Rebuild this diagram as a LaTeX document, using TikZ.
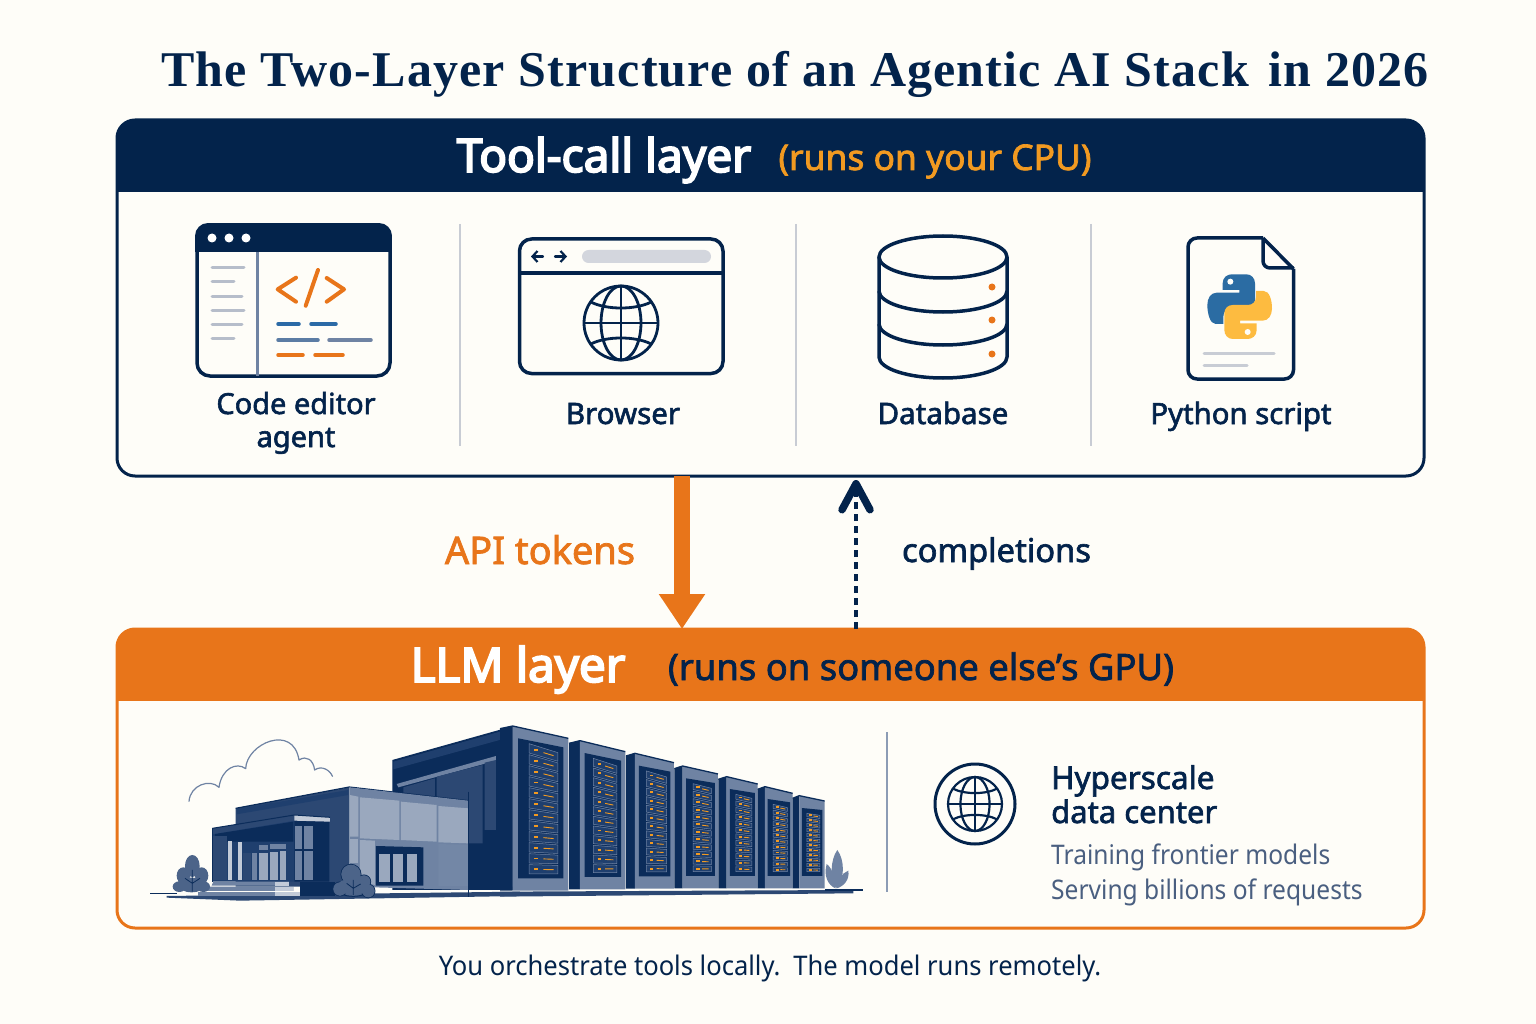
\documentclass[tikz,border=0pt]{standalone}
\usepackage{fontspec}
\usetikzlibrary{arrows.meta,calc}
\setmainfont{Noto Sans}
\newfontfamily\sansm[FakeBold=2.0]{Noto Sans}
\newfontfamily\sansb[FakeBold=4.0]{Noto Sans}
\newfontfamily\sansn[FakeStretch=.91]{Noto Sans}
\newfontfamily\sansf[FakeStretch=.947]{Noto Sans}
\newfontfamily\titlefam[LetterSpace=2.3]{Liberation Serif}
\newcommand{\titlef}{\titlefam\bfseries}
\newcommand{\fs}[1]{\fontsize{#1}{#1}\selectfont}
\definecolor{navy}{HTML}{03234B}
\definecolor{orangeM}{HTML}{E8751A}
\definecolor{orangeL}{HTML}{F29A21}
\definecolor{bgc}{HTML}{FEFDF8}
\definecolor{divc}{HTML}{C8CCD4}
\definecolor{slate}{HTML}{4A5F80}
\definecolor{bD}{HTML}{0B2C5A}
\definecolor{bM}{HTML}{1F3F6E}
\definecolor{bN}{HTML}{2C4873}
\definecolor{bG}{HTML}{6F83A3}
\definecolor{bL}{HTML}{9AA8BE}
\definecolor{bX}{HTML}{C3CBD8}
\definecolor{blueC}{HTML}{2B6AA6}
\definecolor{pyB}{HTML}{2B6CA3}
\definecolor{pyY}{HTML}{FDBB40}
\tikzset{
  panel/.style={draw=#1,line width=3pt,rounded corners=18pt,minimum width=1307pt,inner sep=0pt,outer sep=0pt},
  lbl/.style={anchor=base,inner sep=0pt,text=navy},
  divl/.style={draw=divc,line width=2pt},
  icon/.style={draw=navy,line width=3.5pt,line join=round},
  bar/.style={line width=3.5pt,line cap=round},
  zoomA/.style={x=.3333pt,y=-.3333pt}
}
\newcommand{\myglobe}[4]{%
  \begin{scope}[shift={(#1,#2)},x=#3pt,y=#3pt]
  \draw[navy,line width=#4pt] (0,0) circle[radius=1];
  \draw[navy,line width=#4pt] (0,0) ellipse[x radius=.54,y radius=1];
  \draw[navy,line width=#4pt] (0,-1) -- (0,1) (-1,0) -- (1,0);
  \draw[navy,line width=#4pt] (-.82,-.57) .. controls (-.4,-.35) and (.4,-.35) .. (.82,-.57);
  \draw[navy,line width=#4pt] (-.82,.57) .. controls (-.4,.35) and (.4,.35) .. (.82,.57);
  \end{scope}}
\newcommand{\rack}[6]{% side, xl, xr, yl, yr, yb
  \fill[bD] (#1,#4+8) -- (#2,#4) -- (#2,#6) -- (#1,#6) -- cycle;
  \fill[bG] (#2,#4) -- (#3,#5) -- (#3,#6) -- (#2,#6) -- cycle;
  \draw[bD,line width=1.3pt] (#1,#4+8) -- (#2,#4) -- (#3,#5);
  \pgfmathsetmacro{\iwv}{#3-#2}
  \pgfmathsetmacro{\ixa}{#2+0.1*\iwv}
  \pgfmathsetmacro{\ixb}{#3-0.09*\iwv}
  \pgfmathsetmacro{\iya}{#4+37}
  \pgfmathsetmacro{\iyb}{#5+27}
  \pgfmathsetmacro{\iyc}{#6-37}
  \fill[bD] (\ixa,\iya) -- (\ixb,\iyb) -- (\ixb,\iyc) -- (\ixa,\iyc) -- cycle;
  \pgfmathsetmacro{\uxa}{\ixa+0.24*(\ixb-\ixa)}
  \pgfmathsetmacro{\uxb}{\ixb-0.12*(\ixb-\ixa)}
  \pgfmathsetmacro{\hl}{(\iyc-8-\iya-16)/12}
  \pgfmathsetmacro{\hr}{(\iyc-8-\iyb-16)/12}
  \foreach \i in {0,...,11}{
    \pgfmathsetmacro{\ala}{\iya+16+\i*\hl}
    \pgfmathsetmacro{\alb}{\ala+\hl-5}
    \pgfmathsetmacro{\ara}{\iyb+16+\i*\hr}
    \pgfmathsetmacro{\arb}{\ara+\hr-5}
    \filldraw[fill=bM,draw=bG,line width=.5pt] (\uxa,\ala) -- (\uxb,\ara) -- (\uxb,\arb) -- (\uxa,\alb) -- cycle;
    \pgfmathsetmacro{\dx}{\uxa+0.18*(\uxb-\uxa)}
    \pgfmathsetmacro{\ex}{\uxa+0.5*(\uxb-\uxa)}
    \pgfmathsetmacro{\fx}{\uxa+0.85*(\uxb-\uxa)}
    \pgfmathsetmacro{\my}{(\ala+\alb)/2}
    \pgfmathsetmacro{\mz}{(\ara+\arb)/2}
    \pgfmathsetmacro{\pa}{\my+.18*(\mz-\my)}
    \pgfmathsetmacro{\pb}{\my+.5*(\mz-\my)}
    \pgfmathsetmacro{\pc}{\my+.85*(\mz-\my)}
    \draw[orangeL,line width=1.9pt] (\dx,\pa) -- ++(10,0);
    \draw[orangeL,line width=.9pt] (\ex,\pb) -- (\fx,\pc);
  }
}
\begin{document}
\begin{tikzpicture}[x=1pt,y=-1pt]
\useasboundingbox (0,0) rectangle (1536,1024);
\fill[bgc] (0,0) rectangle (1536,1024);

% title
\node[lbl] (title) at (795,87) {\titlef\fs{50}The Two-Layer Structure of an Agentic AI Stack\hspace{6pt} in 2026};

% ---- top panel
\begin{scope}
\clip[rounded corners=18pt] (117,120) rectangle (1424,476);
\fill[navy] (117,120) rectangle (1424,192);
\end{scope}
\node[panel=navy,minimum height=356pt] (toolpanel) at (770.5,298) {};
\node[lbl,text=white] (toolhead) at (604,172) {\sansb\fs{46}Tool-call layer};
\node[lbl,text=orangeL] (toolsub) at (935,170) {\sansm\fs{35.4}(runs on your CPU)};

\draw[divl] (460,224) -- (460,446);
\draw[divl] (796,224) -- (796,446);
\draw[divl] (1091,224) -- (1091,446);

% editor icon
\begin{scope}
\clip[rounded corners=13pt] (195,223) rectangle (392,378);
\fill[navy] (195,223) rectangle (392,252);
\end{scope}
\draw[icon,rounded corners=13pt] (197,225) rectangle (390,376);
\foreach \cx in {212,229,246} \fill[white] (\cx,238) circle[radius=4.5];
\draw[bG,line width=2.5pt] (257.5,252) -- (257.5,376);
\foreach \ya/\xb in {268/244,282/234,296/242,310/244,324/242,338/234}
  \draw[divc!80!bG,bar,line width=3pt] (212,\ya) -- (\xb,\ya);
\draw[orangeM,line width=4pt,line cap=round,line join=round] (296,277.7) -- (277.7,289.3) -- (296,301.7);
\draw[orangeM,line width=4pt,line cap=round] (318,270) -- (305.7,305.7);
\draw[orangeM,line width=4pt,line cap=round,line join=round] (326.7,278) -- (344,289.3) -- (326.7,301.7);
\draw[blueC,bar] (278,324) -- (299,324);
\draw[blueC,bar] (311,324) -- (336,324);
\draw[bN,bar,draw=bG!70!blueC] (278,340) -- (318,340);
\draw[bG,bar] (329,340) -- (371,340);
\draw[orangeM,bar] (278,355) -- (303,355);
\draw[orangeM,bar] (315,355) -- (343,355);
\node[lbl] (lblcode1) at (296,414) {\sansm\fs{29}Code editor};
\node[lbl] (lblcode2) at (296,447) {\sansm\fs{29}agent};

% browser icon
\draw[icon,rounded corners=12pt] (519.5,239) rectangle (723,373.5);
\draw[navy,line width=3.5pt] (519.5,273) -- (723,273);
\draw[navy,line width=2.2pt,line cap=round,line join=round,-{Straight Barb[length=5pt,width=11pt]}] (543,256.5) -- (531,256.5);
\draw[navy,line width=2.2pt,line cap=round,line join=round,-{Straight Barb[length=5pt,width=11pt]}] (555,256.5) -- (567,256.5);
\fill[divc!80!white,rounded corners=6.5pt] (582,250) rectangle (711,263);
\myglobe{621}{323}{37}{2.8}
\node[lbl] (lblbrowser) at (623,424) {\sansm\fs{29.5}Browser};

% database icon
\draw[icon] (879,257) -- (879,357) arc[start angle=180,end angle=0,x radius=64,y radius=21] -- (1007,257);
\draw[icon] (943,257) ellipse[x radius=64,y radius=21];
\draw[icon] (879,291) arc[start angle=180,end angle=0,x radius=64,y radius=21];
\draw[icon] (879,324) arc[start angle=180,end angle=0,x radius=64,y radius=21];
\foreach \ya in {287,320,354} \fill[orangeM] (992,\ya) circle[radius=3.5];
\node[lbl] (lbldb) at (943,424) {\sansm\fs{29.5}Database};

% python icon
\draw[icon,rounded corners=9pt] (1263,238) -- (1188,238) -- (1188,379) -- (1293.5,379) -- (1293.5,269);
\draw[icon,line join=round] (1263,238) -- (1293.5,269);
\draw[icon,rounded corners=7pt] (1263,238) -- (1263,268) -- (1293.5,268);
\begin{scope}[shift={(1150,220)},zoomA]
\fill[pyB] (218,210) -- (218,190) .. controls (218,172) and (232,163) .. (245,163) -- (290,163) .. controls (304,163) and (315,175) .. (315,190) -- (315,240) .. controls (315,255) and (304,265) .. (290,265) -- (245,265) .. controls (230,265) and (220,275) .. (220,290) -- (220,312) -- (197,312) .. controls (180,312) and (172,280) .. (172,255) .. controls (172,235) and (182,218) .. (200,218) -- (268,218) -- (268,210) -- cycle;
\fill[pyY] (320,310) -- (320,330) .. controls (320,348) and (306,357) .. (293,357) -- (248,357) .. controls (234,357) and (223,345) .. (223,330) -- (223,280) .. controls (223,265) and (234,255) .. (248,255) -- (293,255) .. controls (308,255) and (318,245) .. (318,230) -- (318,213) -- (341,213) .. controls (358,213) and (366,240) .. (366,265) .. controls (366,285) and (356,302) .. (338,302) -- (270,302) -- (270,310) -- cycle;
\fill[bgc] (241,185) circle[radius=9];
\fill[bgc] (293,336) circle[radius=9];
\end{scope}
\draw[divc,bar,line width=3pt] (1204,353) -- (1274,353);
\draw[divc,bar,line width=3pt] (1204,365.5) -- (1247,365.5);
\node[lbl] (lblpy) at (1241,424) {\sansm\fs{29.3}Python script};

% ---- bottom panel
\begin{scope}
\clip[rounded corners=18pt] (117,629) rectangle (1424,928);
\fill[orangeM] (117,629) rectangle (1424,701);
\end{scope}
\node[panel=orangeM,minimum height=299pt] (llmpanel) at (770.5,778.5) {};
\node[lbl,text=white] (llmhead) at (518,682) {\sansb\fs{47.5}LLM layer};
\node[lbl] (llmsub) at (921,680) {\sansm\fs{36.4}(runs on someone else’s GPU)};

% connectors
\coordinate (apix) at (682,552);
\coordinate (compend) at (856,480);
\draw[orangeM,line width=16.7pt,-{Triangle[width=44pt,length=35pt]}] (toolpanel.south -| apix) -- (llmpanel.north -| apix);
\draw[navy,line width=3.2pt,dash pattern=on 7pt off 5pt,-{Straight Barb[round,length=26pt,width=28pt,line width=7.5pt]}] (llmpanel.north -| compend) -- (compend);
\node[lbl,text=orangeM] (apilbl) at (540,564) {\sansm\fs{38}API tokens};
\node[lbl] (complbl) at (996.5,562) {\sansm\fs{32.7}completions};

% ---- building, left part
\begin{scope}[shift={(140,710)},zoomA]
% cloud
\draw[bG,line width=1.2pt,line join=round] (147,275) .. controls (150,225) and (210,205) .. (237,232) .. controls (245,175) and (290,155) .. (317,176) .. controls (320,100) and (460,40) .. (477,150) .. controls (500,135) and (520,150) .. (524,180) .. controls (545,165) and (570,180) .. (578,200);
% back block
\fill[bD] (757,150) -- (1120,48) -- (1140,55) -- (1140,540) -- (757,540) -- cycle;
\fill[bM] (760,155) -- (1115,55) -- (1115,80) -- (760,178) -- cycle;
\fill[bG] (770,222) -- (1068,138) -- (1068,152) -- (775,232) -- cycle;
\fill[bN] (790,232) -- (885,205) -- (885,270) -- (790,270) -- cycle;
\fill[bN] (890,200) -- (1028,165) -- (1028,400) -- (890,400) -- cycle;
\fill[bN] (1034,158) -- (1068,150) -- (1068,360) -- (1034,360) -- cycle;
\fill[bD] (1072,95) -- (1115,82) -- (1115,530) -- (1072,530) -- cycle;
\fill[bG] (1118,52) -- (1140,58) -- (1140,530) -- (1118,530) -- cycle;
% ground band
\fill[bN] (80,558) -- (1140,545) -- (1140,558) -- (300,572) -- (80,563) -- cycle;
\draw[bD,line width=1.5pt] (30,550) -- (110,550);
% mid block
\fill[bN] (287,295) -- (628,232) -- (628,530) -- (287,530) -- cycle;
\fill[bM] (290,313) -- (625,255) -- (625,240) -- (290,297) -- cycle;
\draw[bD,line width=1.2pt] (287,295) -- (628,231) -- (985,272);
\fill[bG] (628,232) -- (985,272) -- (985,540) -- (628,530) -- cycle;
\fill[bL] (660,262) -- (778,272) -- (778,390) -- (660,385) -- cycle;
\fill[bL] (783,275) -- (890,285) -- (890,395) -- (783,390) -- cycle;
\fill[bL] (895,288) -- (985,295) -- (985,400) -- (895,397) -- cycle;
\fill[bL] (630,255) -- (655,260) -- (655,380) -- (630,380) -- cycle;
\fill[bL] (630,388) -- (655,388) -- (655,460) -- (630,460) -- cycle;
\fill[bL] (660,390) -- (705,392) -- (705,525) -- (660,515) -- cycle;
\fill[bG!90!bL] (895,402) -- (985,405) -- (985,528) -- (895,528) -- cycle;
\draw[bD,line width=1pt] (985,245) -- (985,560);
\fill[bD] (708,408) -- (850,412) -- (850,527) -- (708,527) -- cycle;
\foreach \xa/\xb in {716/750,760/790,800/830}
  \fill[bL] (\xa,432) rectangle (\xb,515);
% porch
\fill[bM] (217,355) -- (463,330) -- (463,515) -- (217,515) -- cycle;
\fill[bD] (463,332) -- (568,335) -- (568,515) -- (463,515) -- cycle;
\fill[bD] (225,372) -- (460,335) -- (460,395) -- (225,395) -- cycle;
\fill[bN] (220,378) -- (262,378) -- (262,510) -- (220,510) -- cycle;
\fill[bX] (265,392) rectangle (275,510);
\fill[bX] (294,397) rectangle (305,510);
\fill[bN] (308,428) rectangle (332,510);
\fill[bG] (337,430) rectangle (352,510);
\fill[bL] (358,428) rectangle (384,510);
\fill[bL] (390,425) rectangle (413,510);
\fill[bL] (420,422) rectangle (438,510);
\fill[bG] (358,405) rectangle (384,420);
\fill[bG] (390,402) rectangle (437,416);
\fill[bG] (465,348) rectangle (487,418);
\fill[bG] (492,348) rectangle (518,418);
\fill[bG] (465,424) rectangle (487,510);
\fill[bG] (492,422) rectangle (518,510);
\fill[bN] (217,355) -- (463,315) -- (463,332) -- (220,372) -- cycle;
\fill[bX] (463,315) -- (570,322) -- (570,335) -- (463,332) -- cycle;
\draw[bD,line width=1pt] (217,355) -- (463,315) -- (570,322);
\draw[bD,line width=1pt] (217,355) -- (217,515);
% steps
\fill[bG] (220,515) -- (447,515) -- (447,527) -- (215,527) -- cycle;
\fill[bG] (200,530) -- (460,530) -- (460,543) -- (180,543) -- cycle;
\fill[bG] (175,545) -- (480,545) -- (480,558) -- (175,558) -- cycle;
\fill[bX] (405,515) rectangle (447,527);
\fill[bX] (405,530) rectangle (460,543);
\fill[bX] (405,545) rectangle (480,558);
\fill[bD] (480,515) -- (585,515) -- (585,558) -- (480,558) -- cycle;
% bushes
\fill[bG!65!bD]
  (157,468) ellipse[x radius=22,y radius=33]
  (130,497) ellipse[x radius=20,y radius=25]
  (185,497) ellipse[x radius=20,y radius=25]
  (118,530) ellipse[x radius=20,y radius=16]
  (190,530) ellipse[x radius=20,y radius=16]
  (155,525) ellipse[x radius=40,y radius=22];
\draw[bD,line width=.8pt] (157,480) -- (157,545) (157,520) -- (135,505) (157,520) -- (180,505);
\filldraw[fill=bG!65!bD,draw=bD,line width=1pt]
  (633,493) circle[radius=30]
  (600,537) circle[radius=21]
  (672,515) circle[radius=20]
  (685,543) circle[radius=20]
  (640,535) ellipse[x radius=50,y radius=24];
\fill[bG!65!bD] (633,493) circle[radius=29] (600,537) circle[radius=20] (672,515) circle[radius=19] (685,543) circle[radius=19] (640,530) ellipse[x radius=50,y radius=24];
\draw[bD,line width=.8pt] (640,510) -- (640,555) (640,535) -- (620,520) (640,535) -- (662,522);
\end{scope}

% ---- racks
\begin{scope}[shift={(500,710)},zoomA]
\fill[bN] (0,545) -- (1060,540) -- (1060,550) -- (0,560) -- cycle;
\draw[bD,line width=1.5pt] (975,540) -- (1088,540);
\fill[bG] (1012,420) .. controls (990,450) and (990,510) .. (1008,535) .. controls (1035,510) and (1035,450) .. (1012,420) -- cycle;
\fill[bG] (980,462) .. controls (970,500) and (985,525) .. (1006,535) .. controls (1005,505) and (998,475) .. (980,462) -- cycle;
\fill[bG] (1045,482) .. controls (1050,510) and (1030,530) .. (1010,535) .. controls (1012,510) and (1025,490) .. (1045,482) -- cycle;
\rack{0}{38}{205}{48}{85}{542}
\rack{207}{240}{376}{92}{125}{538}
\rack{378}{405}{522}{130}{158}{536}
\rack{523}{548}{654}{168}{192}{535}
\rack{655}{680}{773}{200}{222}{535}
\rack{773}{795}{878}{230}{250}{535}
\rack{878}{898}{974}{257}{273}{535}
\end{scope}

% right side of LLM panel
\draw[draw=bG!80!white,line width=2pt] (887,732) -- (887,892);
\draw[navy,line width=3pt] (975,804) circle[radius=40];
\myglobe{975}{804}{27}{2.2}
\node[lbl,anchor=base west] (hs1) at (1051,789) {\sansm\fs{31.5}Hyperscale};
\node[lbl,anchor=base west] (hs2) at (1051,823) {\sansm\fs{31}data center};
\node[lbl,anchor=base west,text=slate] (hs3) at (1051,864) {\sansn\fs{27}Training frontier models};
\node[lbl,anchor=base west,text=slate] (hs4) at (1051,899) {\sansn\fs{27}Serving billions of requests};

% footer
\node[lbl] (footer) at (770,975) {\sansf\fs{27}You orchestrate tools locally.\hspace{4pt} The model runs remotely.};
\end{tikzpicture}
\end{document}
